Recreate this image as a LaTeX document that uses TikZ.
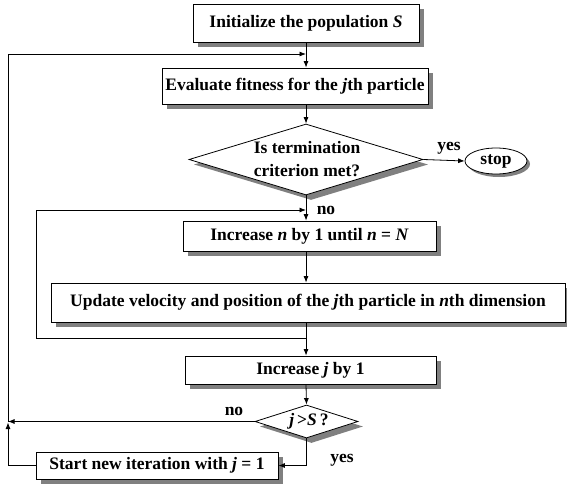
\documentclass[tikz,border=0pt]{standalone}
\usepackage{fontspec}
\setmainfont{Liberation Serif}
\usetikzlibrary{shapes.geometric,shadows,arrows.meta}
\begin{document}
\begin{tikzpicture}[x=1pt,y=-1pt,
  every node/.style={font=\fontsize{17.5}{20}\selectfont\bfseries},
  sh/.style={general shadow={shadow xshift=5pt,shadow yshift=-5pt,fill=black!50}},
  boxnode/.style={draw=black,line width=0.8pt,fill=white,sh,inner sep=0pt,minimum height=#1},
  dia/.style={diamond,draw=black,line width=0.8pt,fill=white,sh,inner sep=0pt},
  lbl/.style={inner sep=0pt},
  ln/.style={line width=0.8pt,draw=black},
  arr/.style={ln,-{Latex[length=6.5pt,width=5pt]}}]
\useasboundingbox (0,0) rectangle (567,484);
% nodes
\node[boxnode=38pt,minimum width=226pt] (init) at (306,23) {Initialize the population \textit{S}};
\node[boxnode=36pt,minimum width=266pt] (eval) at (295,86) {Evaluate fitness for the \textit{j}th particle};
\node[dia,minimum width=234pt,minimum height=71pt] (d1) at (306,159.5) {};
\node[lbl,align=center] (d1t) at (307,159.5) {Is termination\\[3pt]criterion met?};
\node[ellipse,draw=black,line width=0.8pt,fill=white,
      general shadow={shadow xshift=3pt,shadow yshift=-3pt,fill=black!50},
      inner sep=0pt,minimum width=62pt,minimum height=26pt] (stop) at (496,161) {stop};
\node[boxnode=30pt,minimum width=253pt] (incn) at (309.5,236) {Increase \textit{n} by 1 until \textit{n} = \textit{N}};
\node[boxnode=39pt,minimum width=514pt] (upd) at (308,302.5) {Update velocity and position of the \textit{j}th particle in \textit{n}th dimension};
\node[boxnode=28pt,minimum width=251pt] (incj) at (310.5,370) {Increase \textit{j} by 1};
\node[dia,minimum width=103pt,minimum height=33pt] (d2) at (306.5,421.5) {};
\node[lbl] (d2t) at (309,421.5) {\textit{j}\,>\textit{S}\,?};
\node[boxnode=27pt,minimum width=242pt] (start) at (157,465.5) {Start new iteration with \textit{j} = 1};
% helper coordinates
\coordinate (outer) at (8,54);
\coordinate (inner) at (36,210);
\coordinate (merge) at (306,338);
% connectors
\draw[arr] (init.south) -- (init.south |- eval.north);
\draw[arr] (eval.south -| init.south) -- (d1.north);
\draw[arr] (d1.east) -- (stop.west);
\node[lbl] (yes1) at (449,148) {yes};
\draw[arr] (d1.south) -- (d1.south |- incn.north);
\node[lbl] (no1) at (326,210) {no};
\draw[arr] (d1.south |- upd.south) -- (d1.south |- incj.north);
\draw[arr] (merge) -- (merge -| inner) -- (inner) -- (inner -| d1.south);
\draw[arr] (d1.south |- incn.south) -- (d1.south |- upd.north);
\draw[arr] (d1.south |- incj.south) -- (d2.north);
\draw[arr] (d2.west) -- (d2.west -| outer);
\node[lbl] (no2) at (234,411) {no};
\draw[arr] (d2.south) |- (start.east);
\node[lbl] (yes2) at (342,460) {yes};
\draw[arr] (start.west) -| ([yshift=-1pt]d2.west -| outer);
\draw[arr] (d2.west -| outer) -- (outer) -- (outer -| init.south);
\end{tikzpicture}
\end{document}
